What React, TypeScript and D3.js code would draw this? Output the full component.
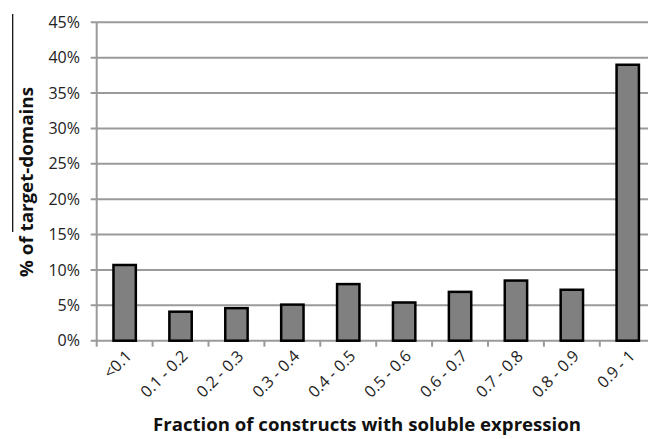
import React from "react";
import * as d3 from "d3";

const categories = ["<0.1", "0.1 - 0.2", "0.2 - 0.3", "0.3 - 0.4", "0.4 - 0.5", "0.5 - 0.6", "0.6 - 0.7", "0.7 - 0.8", "0.8 - 0.9", "0.9 - 1"];
const values = [10.7, 4.1, 4.6, 5.1, 8.0, 5.4, 6.9, 8.5, 7.2, 39.0];
const yTicks = [0, 5, 10, 15, 20, 25, 30, 35, 40, 45];
const xTitle = "Fraction of constructs with soluble expression";
const yTitle = "% of target-domains";

const W = 648;
const H = 439;
const left = 96.7;
const right = 655.7;
const top = 22.3;
const bottom = 340.7;
const font = "'Open Sans', 'Liberation Sans', sans-serif";
const gridColor = "#9a9a9a";

export default function App() {
  const x = d3.scaleBand<string>().domain(categories).range([left, right]).padding(0);
  const y = d3.scaleLinear().domain([0, 45]).range([bottom, top]);
  const bw = x.bandwidth() * 0.4;

  return (
    <svg width={W} height={H} style={{ position: "absolute", left: 0, top: 0, background: "#fff" }}>
      {yTicks.map((t) => (
        <g key={t}>
          <line x1={left - 6} x2={W} y1={y(t)} y2={y(t)} stroke={gridColor} strokeWidth={2} />
          <text x={80} y={y(t)} dy="0.35em" textAnchor="end" fontFamily={font} fontSize={16} fill="#222">
            {t}%
          </text>
        </g>
      ))}
      <line x1={left} x2={left} y1={top} y2={bottom + 6} stroke={gridColor} strokeWidth={2} />
      {categories.map((c, i) => (
        <line key={"t" + i} x1={left + x.step() * (i + 1)} x2={left + x.step() * (i + 1)} y1={bottom} y2={bottom + 6} stroke={gridColor} strokeWidth={2} />
      ))}
      {categories.map((c, i) => {
        const cx = (x(c) as number) + x.bandwidth() / 2;
        return (
          <rect
            key={c}
            x={cx - bw / 2}
            y={y(values[i])}
            width={bw}
            height={bottom - y(values[i])}
            fill="#808080"
            stroke="#000"
            strokeWidth={2.5}
          />
        );
      })}
      {categories.map((c, i) => {
        const cx = (x(c) as number) + x.bandwidth() / 2;
        const cy = 349;
        return (
          <text
            key={"l" + i}
            x={cx}
            y={cy}
            transform={`rotate(-45, ${cx}, ${cy})`}
            textAnchor="end"
            dy="0.72em"
            fontFamily={font}
            fontSize={16}
            fill="#222"
          >
            {c}
          </text>
        );
      })}
      <text x={367} y={431} textAnchor="middle" fontFamily={font} fontWeight="bold" fontSize={17.5} fill="#111" textLength={428} lengthAdjust="spacingAndGlyphs">
        {xTitle}
      </text>
      <text
        x={0}
        y={0}
        transform={`translate(33, 182) rotate(-90)`}
        textAnchor="middle"
        fontFamily={font}
        fontWeight="bold"
        fontSize={17.5}
        fill="#111"
        textLength={190}
        lengthAdjust="spacingAndGlyphs"
      >
        {yTitle}
      </text>
      <line x1={12.7} x2={12.7} y1={14} y2={232} stroke="#000" strokeWidth={1.2} />
    </svg>
  );
}
